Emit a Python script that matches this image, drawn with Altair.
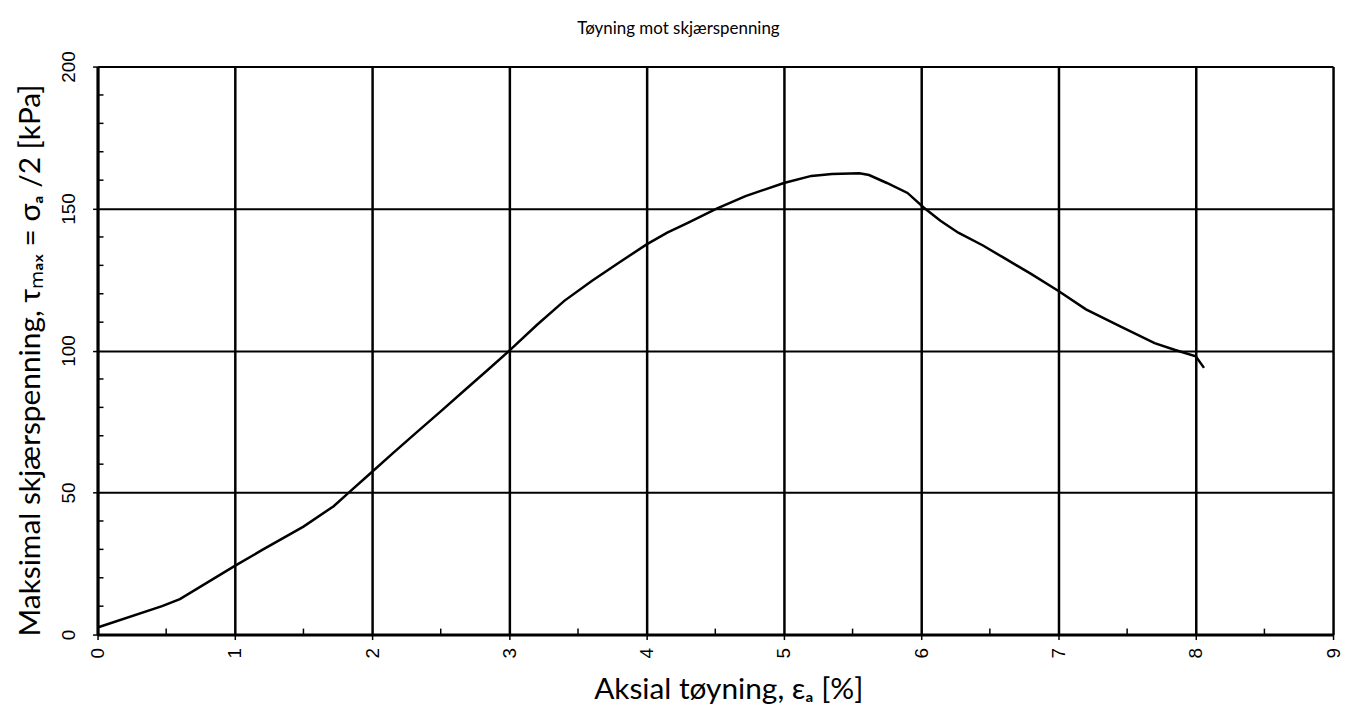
import altair as alt
import pandas as pd

# Curve (axial strain %, shear stress kPa)
strain = [0.0, 0.47, 0.6, 1.0, 1.2, 1.5, 1.72, 1.83, 1.97, 2.15, 2.32, 2.5, 2.68, 2.85, 3.0,
          3.2, 3.4, 3.6, 3.8, 4.0, 4.15, 4.3, 4.51, 4.72, 5.0, 5.2, 5.35, 5.55, 5.62,
          5.75, 5.9, 6.02, 6.14, 6.27, 6.45, 6.6, 6.8, 7.0, 7.2, 7.45, 7.7, 7.85, 8.0, 8.06]
stress = [2.5, 10.0, 12.5, 24.2, 29.8, 38.0, 45.2, 50.0, 56.0, 63.8, 71.0, 78.6, 86.3, 93.5, 100.0,
          109.0, 117.5, 124.5, 131.0, 137.4, 141.5, 145.0, 150.0, 154.4, 159.0, 161.5, 162.2, 162.4, 161.8,
          159.0, 155.5, 150.3, 145.7, 141.5, 137.0, 132.7, 127.0, 121.0, 114.5, 108.5, 102.6, 100.2, 98.0, 93.9]

x_major = [0, 1, 2, 3, 4, 5, 6, 7, 8, 9]
y_major = [0, 50, 100, 150, 200]
x_minor = [0.5, 1.5, 2.5, 3.5, 4.5, 5.5, 6.5, 7.5, 8.5]
y_minor = [10, 20, 30, 40, 60, 70, 80, 90, 110, 120, 130, 140, 160, 170, 180, 190]

W, H = 1242, 571

curve = pd.DataFrame({"strain": strain, "stress": stress})
xm = pd.DataFrame({"v": x_minor})
ym = pd.DataFrame({"v": y_minor})

xscale = alt.Scale(domain=[0, 9], nice=False, zero=False)
yscale = alt.Scale(domain=[0, 200], nice=False, zero=False)

xaxis = alt.Axis(
    values=x_major, format="d", title="Aksial tøyning, εₐ [%]",
    labelAngle=-90, labelAlign="right", labelBaseline="middle",
    labelFont="Liberation Sans", labelFontSize=19, labelColor="black",
    labelPadding=8, labelFlush=False, labelOverlap=False,
    tickSize=5, tickColor="black", tickWidth=1.5,
    domainColor="black", domainWidth=3,
    grid=True, gridColor="black", gridWidth=2.5,
    titleFont="Lato", titleFontSize=30, titleFontWeight="normal",
    titleColor="black", titlePadding=17, titleX=634,
)
yaxis = alt.Axis(
    values=y_major, format="d", title="Maksimal skjærspenning, τₘₐₓ = σₐ /2  [kPa]",
    labelAngle=-90, labelAlign="center", labelBaseline="bottom",
    labelFont="Liberation Sans", labelFontSize=19, labelColor="black",
    labelPadding=14, labelOverlap=False,
    tickSize=5, tickColor="black", tickWidth=1.5,
    domainColor="black", domainWidth=3,
    grid=True, gridColor="black", gridWidth=2,
    titleFont="Lato", titleFontSize=30, titleFontWeight="normal",
    titleColor="black", titlePadding=14, titleY=295,
)

line = alt.Chart(curve).mark_line(color="black", strokeWidth=2.5).encode(
    x=alt.X("strain:Q", scale=xscale, axis=xaxis),
    y=alt.Y("stress:Q", scale=yscale, axis=yaxis),
)

xminor = alt.Chart(xm).mark_rule(color="black", strokeWidth=1.5).encode(
    x=alt.X("v:Q", scale=xscale),
    y=alt.value(H), y2=alt.value(H - 6),
)
yminor = alt.Chart(ym).mark_rule(color="black", strokeWidth=1.5).encode(
    y=alt.Y("v:Q", scale=yscale),
    x=alt.value(0), x2=alt.value(6),
)

chart = alt.layer(xminor, yminor, line).properties(
    width=W, height=H,
    autosize=alt.AutoSizeParams(type="none"),
    padding={"left": 90, "top": 57, "right": 10, "bottom": 82},
    title=alt.TitleParams(
        "Tøyning mot skjærspenning", font="Lato", fontSize=17,
        fontWeight="normal", color="black", anchor="middle",
        frame="group", dx=-37, offset=13,
    ),
).configure_view(stroke="black", strokeWidth=3).configure(background="white")

chart.save("out.html", embed_options={"renderer": "svg", "actions": False})
